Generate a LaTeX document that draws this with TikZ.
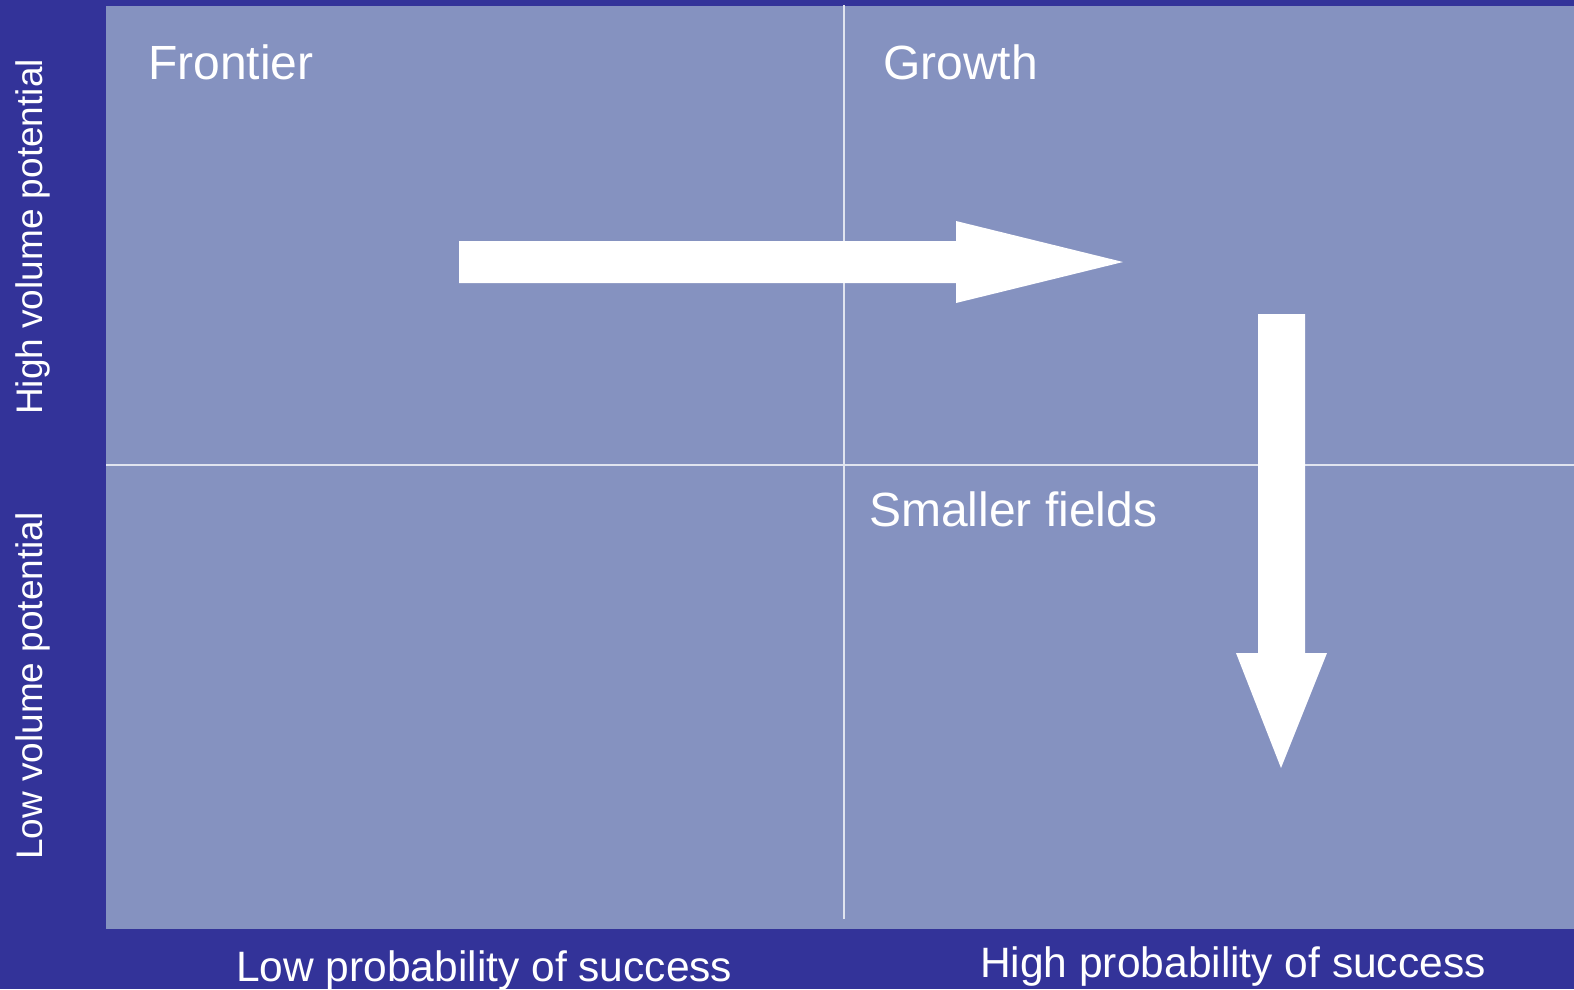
\documentclass[tikz,border=0pt]{standalone}
\usepackage{fontspec}
\setmainfont{Liberation Sans}

\definecolor{darkblue}{HTML}{333399}
\definecolor{paleblue}{HTML}{8592C0}

\tikzset{
  quadlabel/.style = {anchor=base west, inner sep=0pt, text=white,
    font=\fontsize{48}{48}\selectfont},
  axislabel/.style = {anchor=base west, inner sep=0pt, text=white,
    font=\fontsize{42.5}{42.5}\selectfont},
  sidelabel/.style = {anchor=base, rotate=90, inner sep=0pt, text=white,
    font=\fontsize{37}{37}\selectfont},
  gridline/.style = {draw=white!75!paleblue, line width=1.2pt},
  blockarrow/.style = {fill=white, draw=none}
}

\begin{document}
\begin{tikzpicture}[x=1pt, y=-1pt]
  % background and matrix panel
  \fill[darkblue] (0,0) rectangle (1574,989);
  \useasboundingbox (0,0) rectangle (1574,989);
  \fill[paleblue] (106,6) rectangle (1574,929);

  % quadrant dividers
  \coordinate (vtop) at (844,5);
  \coordinate (vbot) at (844,919);
  \coordinate (hleft) at (106,465);
  \coordinate (hright) at (1574,465);
  \draw[gridline] (vtop) -- (vbot);
  \draw[gridline] (hleft) -- (hright);

  % quadrant titles
  \node[quadlabel] (frontier) at (148,79) {Frontier};
  \node[quadlabel] (growth) at (883,79) {Growth};
  \node[quadlabel] (smaller) at (869,526) {Smaller fields};

  % axis titles
  \node[axislabel] (lowprob) at (236,981) {Low probability of success};
  \node[axislabel] (highprob) at (980,977) {High probability of success};
  \node[sidelabel] (highvol) at (42,237) {High volume potential};
  \node[sidelabel] (lowvol) at (42,686) {Low volume potential};

  % block arrows
  \fill[blockarrow] (459,241) -- (956,241) -- (956,221) -- (1123,262)
    -- (956,303) -- (956,283) -- (459,283) -- cycle;
  \fill[blockarrow] (1258,314) -- (1305,314) -- (1305,653) -- (1327,653)
    -- (1281,768) -- (1236,653) -- (1258,653) -- cycle;
\end{tikzpicture}
\end{document}
